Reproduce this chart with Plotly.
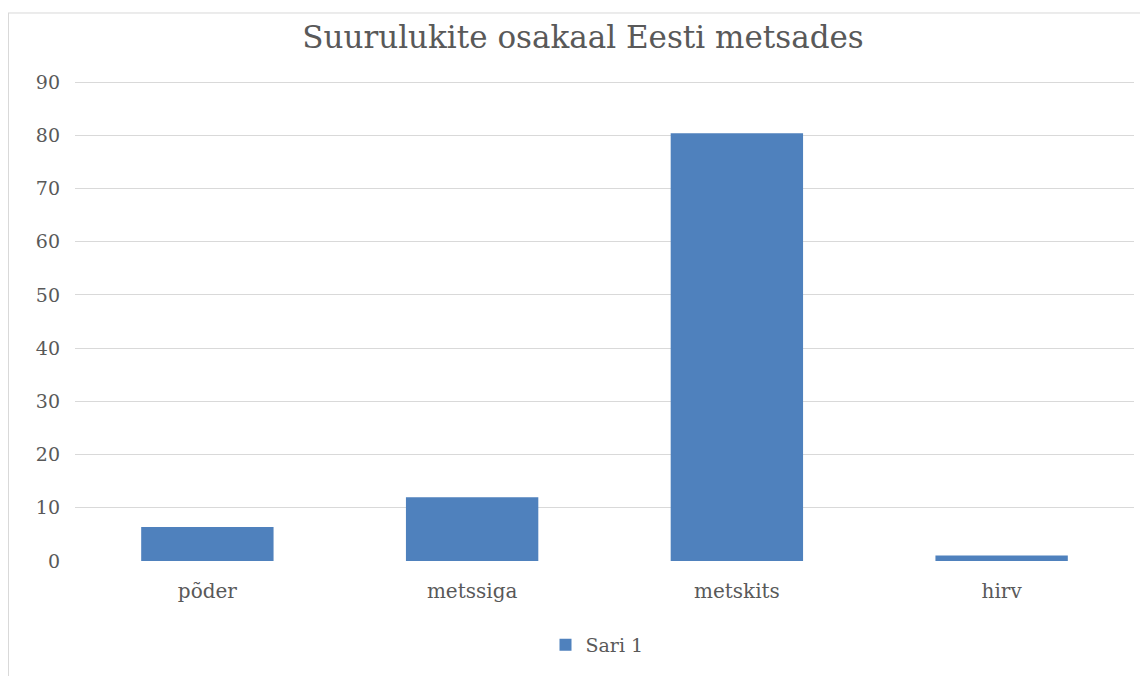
import plotly.graph_objects as go

categories = ["põder", "metssiga", "metskits", "hirv"]
values = [6.4, 12.0, 80.4, 1.05]
series_name = "Sari 1"
title_text = "Suurulukite osakaal Eesti metsades"
y_ticks = list(range(0, 100, 10))

# page body has an 8px margin; figure coordinates are page coordinates minus 8
OFF = 8
W, H = 1140, 668
L, R = 75 - OFF, 1134 - OFF
Y0, Y90 = 561.5 - OFF, 81.7 - OFF
YMAX = 90.2
pxu = (Y0 - Y90) / 90.0
T = Y90 - (YMAX - 90) * pxu
B = Y0

FONT = "DejaVu Serif"
TEXT = "#595959"

fig = go.Figure()
fig.add_trace(go.Bar(
    x=categories, y=values, name=series_name,
    marker=dict(color="#4F81BD", line=dict(width=0)),
    showlegend=True,
))

def px_x(px):
    return (px - OFF - L) / (R - L)

def px_y(py):
    return (B - (py - OFF)) / (B - T)

fig.update_layout(
    width=W, height=H,
    margin=dict(l=L, r=W - R, t=T, b=H - B, pad=0),
    paper_bgcolor="white", plot_bgcolor="white",
    bargap=0.5,
    font=dict(family=FONT, color=TEXT, size=19),
    title=dict(text=title_text, x=(583 - OFF) / W, xanchor="center", xref="container",
               y=1 - (37 - OFF) / H, yanchor="middle", yref="container",
               font=dict(family=FONT, size=31, color=TEXT)),
    xaxis=dict(showgrid=False, showline=False, ticks="", tickfont=dict(size=20, color=TEXT),
               ticklabelstandoff=16),
    yaxis=dict(range=[0, YMAX], tickvals=y_ticks, showgrid=True, gridcolor="#D9D9D9", gridwidth=1,
               zeroline=False, showline=False, ticks="", tickfont=dict(size=19, color=TEXT),
               ticklabelstandoff=14),
    legend=dict(orientation="h", x=px_x(597), xanchor="center", y=1 - (645 - OFF) / H, yanchor="middle",
                yref="container", font=dict(size=19, color=TEXT)),
    shapes=[
        dict(type="line", xref="paper", yref="paper", x0=px_x(8), x1=px_x(1170), y0=px_y(12.5), y1=px_y(12.5),
             line=dict(color="#D9D9D9", width=1)),
        dict(type="line", xref="paper", yref="paper", x0=px_x(8.5), x1=px_x(8.5), y0=px_y(12.5), y1=px_y(700),
             line=dict(color="#D9D9D9", width=1)),
    ],
)

fig.write_html("out.html")
